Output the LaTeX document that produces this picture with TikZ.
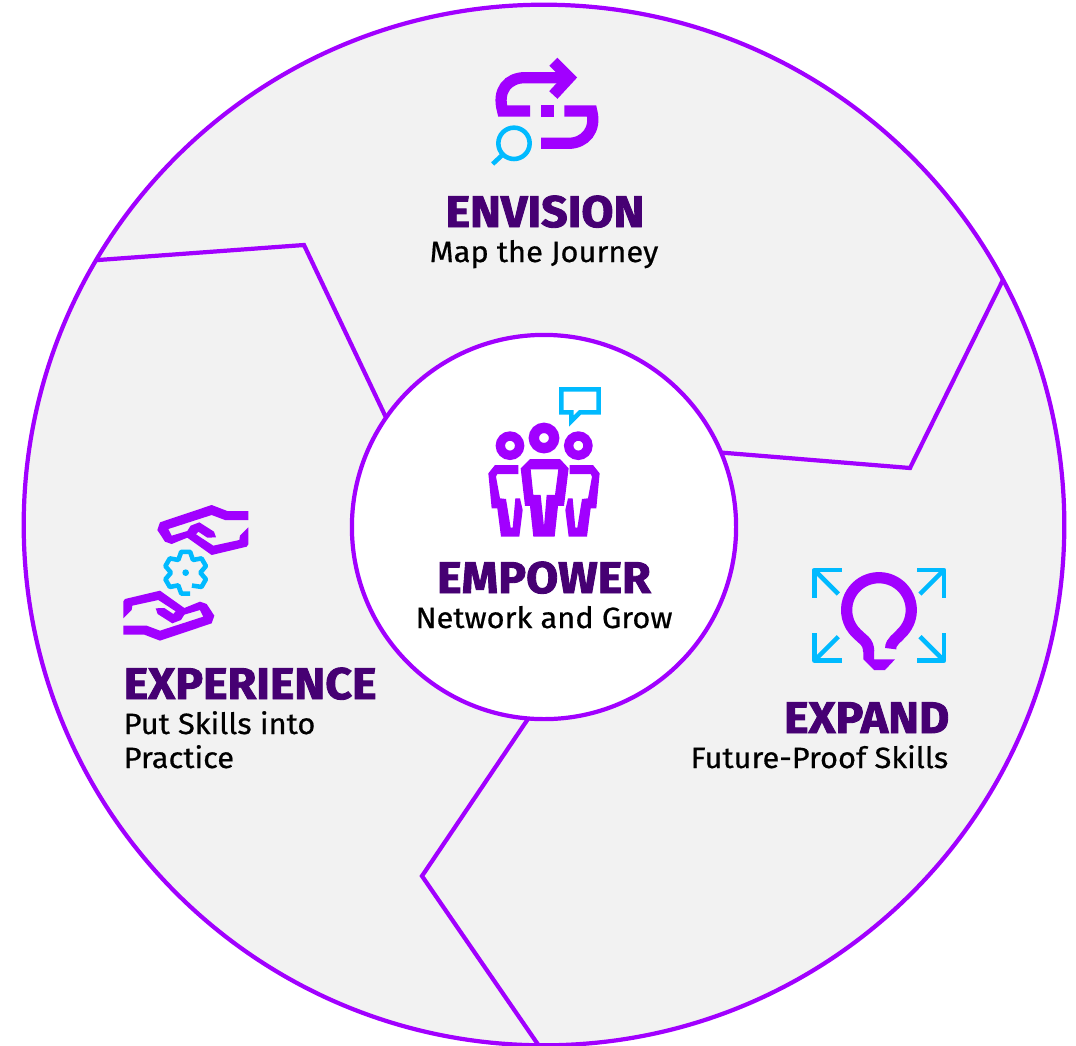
\documentclass[tikz,border=0pt]{standalone}
\usepackage{fontspec}
\usetikzlibrary{calc}
\setmainfont{Fira Sans}
\newfontfamily\headfont{Fira Sans Bold}[FakeBold=2,FakeStretch=1.05]
\newfontfamily\subfont{Fira Sans}[FakeBold=0.6,FakeStretch=1.05]
\definecolor{accpurple}{HTML}{A100FF}
\definecolor{accdark}{HTML}{460073}
\definecolor{accblue}{HTML}{00BAFF}
\definecolor{accgrey}{HTML}{F2F2F2}
\tikzset{
	ring/.style={circle,draw=accpurple,line width=1.2pt,inner sep=0pt},
	spoke/.style={draw=accpurple,line width=1.2pt,line join=miter},
	head/.style={font=\headfont\fontsize{12.6}{14}\selectfont,text=accdark,inner sep=0pt},
	sub/.style={font=\subfont\fontsize{8.35}{10}\selectfont,text=black,inner sep=0pt},
	pline/.style={draw=accpurple,line width=3.2pt},
	bline/.style={draw=accblue,line width=1.3pt}
}
\begin{document}
\begin{tikzpicture}[x=0.01cm,y=-0.01cm]
	\useasboundingbox (0,0) rectangle (1076,1045);
	\node [ring,fill=accgrey,minimum size=10.4cm] (outer) at (544,525) {};
	\node [ring,fill=white,minimum size=3.84cm] (inner) at (544,527) {};

	% spokes
	\coordinate (knotA) at (304,245);
	\coordinate (knotB) at (910,468);
	\coordinate (knotC) at (422,876);
	\path [spoke] ($(outer)+(149.4:5.2cm)$) -- (knotA) -- ($(inner)+(145.3:1.92cm)$);
	\path [spoke] ($(outer)+(28.1:5.2cm)$) -- (knotB) -- ($(inner)+(22.8:1.92cm)$);
	\path [spoke] ($(inner)+(265.3:1.92cm)$) -- (knotC) -- ($(outer)+(269.4:5.2cm)$);

	% labels
	\node [head,anchor=base] (envision) at (545,227) {ENVISION};
	\node [sub,anchor=base] (envisionsub) at (544,262) {Map the Journey};
	\node [head,anchor=base] (empower) at (544,593) {EMPOWER};
	\node [sub,anchor=base] (empowersub) at (544,628) {Network and Grow};
	\node [head,anchor=base west] (experience) at (123,699) {EXPERIENCE};
	\node [sub,anchor=base west] (experiencesub) at (123,734) {Put Skills into};
	\node [sub,anchor=base west] (experiencesubb) at (123,768) {Practice};
	\node [head,anchor=base east] (expand) at (950,733) {EXPAND};
	\node [sub,anchor=base east] (expandsub) at (949,768) {Future-Proof Skills};

	% envision icon
	\begin{scope}[shift={(470,40)},scale=0.3333]
		\draw [pline] (180,213) -- (98,213) .. controls (80,150) and (115,113) .. (165,113) -- (295,113);
		\draw [pline] (250,65) -- (298,113) -- (250,165);
		\fill [accpurple] (213,195) rectangle (252,232);
		\draw [pline] (283,213) -- (365,213) .. controls (380,270) and (345,310) .. (295,310) -- (213,310);
		\draw [bline] (132,310) circle (47);
		\draw [bline] (98,344) -- (68,372);
	\end{scope}

	% empower icon
	\begin{scope}[shift={(470,375)},scale=0.3333]
		\draw [bline,line join=miter] (274,43) -- (386,43) -- (386,112) -- (330,112) -- (304,138) -- (304,112) -- (274,112) -- cycle;
		\draw [accpurple,line width=2.65pt] (120,212) circle (29);
		\draw [accpurple,line width=2.95pt] (222,189) circle (30.5);
		\draw [accpurple,line width=2.65pt] (325,212) circle (29);
		\fill [accpurple,even odd rule] (180,252) -- (270,252) -- (296,280) -- (282,393) -- (264,393) -- (254,485) -- (190,485) -- (180,393) -- (165,393) -- (152,280) -- cycle
			(182,283) -- (265,283) -- (255,360) -- (230,360) -- (222,455) -- (212,360) -- (190,360) -- cycle;
		\foreach \m/\o in {1/0,-1/444} {
			\fill [accpurple] (\o+\m*75,270) -- (\o+\m*145,270) -- (\o+\m*145,297) -- (\o+\m*82,297) -- (\o+\m*78,305) -- (\o+\m*90,370) -- (\o+\m*108,372) -- (\o+\m*122,458) -- (\o+\m*128,458) -- (\o+\m*136,370) -- (\o+\m*150,370) -- (\o+\m*158,405) -- (\o+\m*148,485) -- (\o+\m*93,485) -- (\o+\m*82,400) -- (\o+\m*65,400) -- (\o+\m*55,295) -- cycle;
		}
	\end{scope}

	% experience icon
	\begin{scope}[shift={(110,495)},scale=0.3333]
		\foreach \a in {0,180} {
			\begin{scope}[rotate around={\a:(227.5,233.5)}]
				\fill [accpurple] (415,48) -- (352,48) -- (305,30) -- (150,82) -- (142,105) -- (165,140) -- (185,147) -- (232,128) -- (305,180) -- (410,155) -- (415,148) -- (415,97) -- (390,122) -- (388,135) -- (310,152) -- (258,118) -- (265,110) -- (292,128) -- (318,127) -- (312,110) -- (268,82) -- (242,92) -- (232,108) -- (185,122) -- (175,102) -- (305,60) -- (345,75) -- (415,75) -- cycle;
			\end{scope}
		}
		\begin{scope}[shift={(227,233)}]
			\fill [accblue] (0,0) circle (10);
			\draw [bline,line join=round] (64:43) -- (42:64) -- (18:64) -- (0:44)
				\foreach \a in {-30,-90,-150,-210} { -- (\a+12:64) -- (\a-12:64) -- (\a-30:44) }
				-- (102:64) -- (78:64);
		\end{scope}
	\end{scope}

	% expand icon
	\begin{scope}[shift={(800,555)},scale=0.3333]
		\draw [accpurple,line width=3.2pt] (272,281) .. controls (272,258) and (295,248) .. (303,236) arc (47:-227:97) .. controls (185,252) and (206,258) .. (206,290);
		\fill [accpurple] (190,285) -- (222,285) -- (222,313) -- (285,313) -- (255,345) -- (222,345) -- (190,313) -- cycle;
		\foreach \cx/\cy/\dx/\dy in {43/45/1/1,432/45/-1/1,43/317/1/-1,432/317/-1/-1} {
			\draw [bline,line join=round] (\cx,\cy+\dy*83) -- (\cx,\cy) -- (\cx+\dx*82,\cy);
			\draw [bline] (\cx,\cy) -- (\cx+\dx*72,\cy+\dy*72);
		}
	\end{scope}
\end{tikzpicture}
\end{document}
